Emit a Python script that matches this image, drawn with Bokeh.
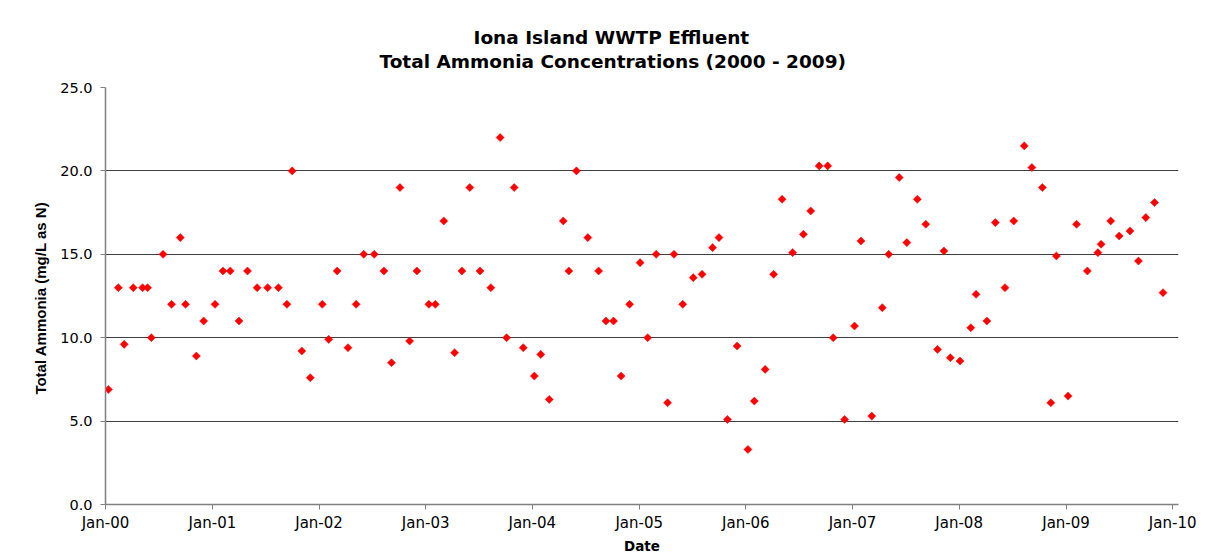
import numpy as np
import pandas as pd
from bokeh.plotting import figure
from bokeh.models import (ColumnDataSource, Range1d, FixedTicker, DatetimeTickFormatter,
                          NumeralTickFormatter, Title, BoxAnnotation)
from bokeh.embed import file_html
from bokeh.resources import INLINE

# ---- data ----
dates = [
    "2000-01-11", "2000-02-14", "2000-03-05", "2000-04-05", "2000-05-07", "2000-05-24", "2000-06-06",
    "2000-07-16", "2000-08-14", "2000-09-13", "2000-10-01", "2000-11-07", "2000-12-02",
    "2001-01-10", "2001-02-06", "2001-03-03", "2001-04-02", "2001-05-01", "2001-06-03",
    "2001-07-09", "2001-08-15", "2001-09-13", "2001-10-01", "2001-11-03", "2001-12-02",
    "2002-01-12", "2002-02-03", "2002-03-04", "2002-04-10", "2002-05-08", "2002-06-03",
    "2002-07-09", "2002-08-11", "2002-09-06", "2002-10-05", "2002-11-07", "2002-12-02",
    "2003-01-12", "2003-02-03", "2003-03-04", "2003-04-10", "2003-05-05", "2003-06-01",
    "2003-07-06", "2003-08-12", "2003-09-13", "2003-10-05", "2003-10-31", "2003-12-01",
    "2004-01-08", "2004-01-30", "2004-02-28", "2004-04-16", "2004-05-05", "2004-05-31",
    "2004-07-09", "2004-08-15", "2004-09-09", "2004-10-05", "2004-10-31", "2004-11-29",
    "2005-01-04", "2005-01-30", "2005-02-28", "2005-04-08", "2005-04-30", "2005-05-30",
    "2005-07-05", "2005-08-04", "2005-09-09", "2005-10-01", "2005-10-30", "2005-12-02",
    "2006-01-08", "2006-01-30", "2006-03-08", "2006-04-06", "2006-05-05", "2006-06-10",
    "2006-07-17", "2006-08-11", "2006-09-09", "2006-10-08", "2006-10-27", "2006-12-05",
    "2007-01-08", "2007-01-30", "2007-03-08", "2007-04-13", "2007-05-05", "2007-06-10",
    "2007-07-06", "2007-08-11", "2007-09-09", "2007-10-19", "2007-11-10", "2007-12-02",
    "2008-01-04", "2008-02-10", "2008-02-28", "2008-04-05", "2008-05-04", "2008-06-06",
    "2008-07-06", "2008-08-11", "2008-09-06", "2008-10-12", "2008-11-10", "2008-11-29",
    "2009-01-08", "2009-02-06", "2009-03-15", "2009-04-20", "2009-05-01", "2009-06-03",
    "2009-07-02", "2009-08-08", "2009-09-06", "2009-10-01", "2009-10-31", "2009-11-29",
]
ammonia = [
    6.9, 13.0, 9.6, 13.0, 13.0, 13.0, 10.0, 15.0, 12.0, 16.0, 12.0, 8.9, 11.0,
    12.0, 14.0, 14.0, 11.0, 14.0, 13.0, 13.0, 13.0, 12.0, 20.0, 9.2, 7.6,
    12.0, 9.9, 14.0, 9.4, 12.0, 15.0, 15.0, 14.0, 8.5, 19.0, 9.8, 14.0,
    12.0, 12.0, 17.0, 9.1, 14.0, 19.0, 14.0, 13.0, 22.0, 10.0, 19.0, 9.4,
    7.7, 9.0, 6.3, 17.0, 14.0, 20.0, 16.0, 14.0, 11.0, 11.0, 7.7, 12.0,
    14.5, 10.0, 15.0, 6.1, 15.0, 12.0, 13.6, 13.8, 15.4, 16.0, 5.1, 9.5,
    3.3, 6.2, 8.1, 13.8, 18.3, 15.1, 16.2, 17.6, 20.3, 20.3, 10.0, 5.1,
    10.7, 15.8, 5.3, 11.8, 15.0, 19.6, 15.7, 18.3, 16.8, 9.3, 15.2, 8.8,
    8.6, 10.6, 12.6, 11.0, 16.9, 13.0, 17.0, 21.5, 20.2, 19.0, 6.1, 14.9,
    6.5, 16.8, 14.0, 15.1, 15.6, 17.0, 16.1, 16.4, 14.6, 17.2, 18.1, 12.7,
]
tick_years = [2000, 2001, 2002, 2003, 2004, 2005, 2006, 2007, 2008, 2009, 2010]
y_ticks = [0, 5, 10, 15, 20, 25]
title_line1 = "Iona Island WWTP Effluent"
title_line2 = "Total Ammonia Concentrations (2000 - 2009)"
x_title = "Date"
y_title = "Total Ammonia  (mg/L as N)"

src = ColumnDataSource(data=dict(date=pd.to_datetime(dates), value=ammonia))

x_start = pd.Timestamp("2000-01-01")
x_end = pd.Timestamp("2010-01-21")

p = figure(width=1207, height=556, output_backend="svg", toolbar_location=None,
           x_axis_type="datetime",
           x_range=Range1d(x_start, x_end), y_range=Range1d(0, 25),
           min_border_left=105, min_border_right=29, min_border_top=87, min_border_bottom=51)
p.title = None
p.outline_line_color = None
p.background_fill_color = "white"
p.border_fill_color = "white"

# chart-area frame (thick black edge at top and left)
top_edge = BoxAnnotation(left=0, right=1205, top=3, bottom=7,
                         left_units="canvas", right_units="canvas",
                         top_units="canvas", bottom_units="canvas",
                         fill_color="black", fill_alpha=1.0, line_color=None, level="overlay")
left_edge = BoxAnnotation(left=0, right=3, top=3, bottom=556,
                          left_units="canvas", right_units="canvas",
                          top_units="canvas", bottom_units="canvas",
                          fill_color="black", fill_alpha=1.0, line_color=None, level="overlay")
p.add_layout(top_edge)
p.add_layout(left_edge)

# titles (line 2 added first so it sits nearest the plot)
t2 = Title(text=title_line2, align="left", offset=274, text_font="DejaVu Sans",
           text_font_size="18.5px", text_font_style="bold", text_color="black", standoff=32)
t1 = Title(text=title_line1, align="left", offset=368, text_font="DejaVu Sans",
           text_font_size="18.5px", text_font_style="bold", text_color="black", standoff=-30)
p.add_layout(t2, "above")
p.add_layout(t1, "above")

# grid
p.xgrid.visible = False
p.ygrid.grid_line_color = "#404040"
p.ygrid.grid_line_width = 1
p.ygrid.ticker = FixedTicker(ticks=y_ticks)

# axes
tick_ms = [pd.Timestamp(f"{y}-01-01").value // 10**6 for y in tick_years]
p.xaxis.ticker = FixedTicker(ticks=tick_ms)
fmt = "%b-%y"
p.xaxis.formatter = DatetimeTickFormatter(years=fmt, months=fmt, days=fmt, hours=fmt,
                                          hourmin=fmt, minutes=fmt, minsec=fmt, seconds=fmt,
                                          milliseconds=fmt, microseconds=fmt)
p.yaxis.ticker = FixedTicker(ticks=y_ticks)
p.yaxis.formatter = NumeralTickFormatter(format="0.0")

for ax in (p.xaxis[0], p.yaxis[0]):
    ax.axis_line_color = "#808080"
    ax.axis_line_width = 1.5
    ax.major_tick_line_color = "#808080"
    ax.major_tick_out = 5
    ax.major_tick_in = 0
    ax.minor_tick_line_color = None
    ax.major_label_text_font = "DejaVu Sans"
    ax.major_label_text_color = "black"

p.xaxis.major_label_text_font_size = "15px"
p.xaxis.major_label_standoff = 4
p.yaxis.major_label_text_font_size = "14.5px"
p.yaxis.major_label_standoff = 8

p.xaxis.axis_label = x_title
p.xaxis.axis_label_text_font = "DejaVu Sans"
p.xaxis.axis_label_text_font_size = "13.5px"
p.xaxis.axis_label_text_font_style = "bold"
p.xaxis.axis_label_standoff = 3
p.xaxis.axis_label_text_color = "black"

p.yaxis.axis_label = y_title
p.yaxis.axis_label_text_font = "Liberation Sans"
p.yaxis.axis_label_text_font_size = "15px"
p.yaxis.axis_label_text_font_style = "bold"
p.yaxis.axis_label_standoff = 8
p.yaxis.axis_label_text_color = "black"

p.scatter(x="date", y="value", source=src, marker="square", angle=np.pi / 4,
          size=5.7, fill_color="#ff0000", line_color="#ff0000", line_width=0.5)

open("out.html", "w").write(file_html(p, INLINE))
